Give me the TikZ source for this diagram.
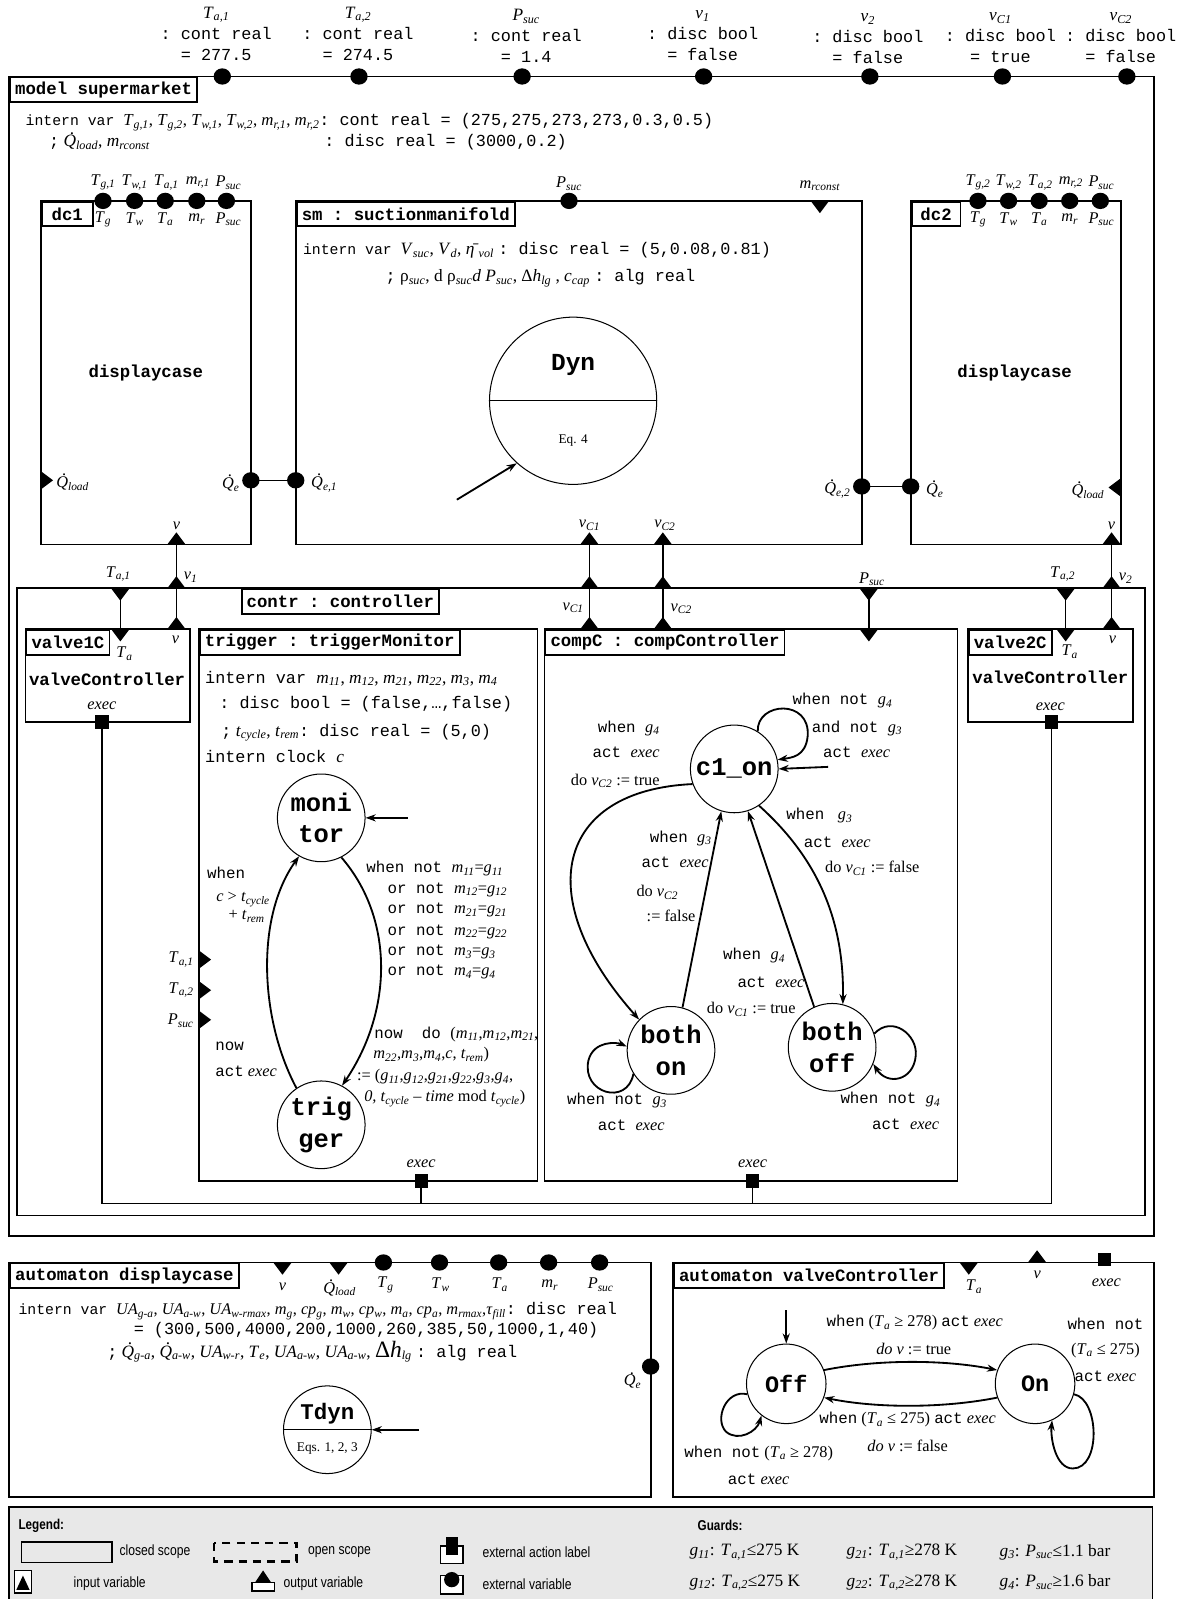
\documentclass[tikz,border=0pt]{standalone}
\usepackage{fontspec}
\setmainfont{Liberation Serif}
\setmonofont{Liberation Mono}
\newfontfamily\lsans[FakeStretch=0.82]{Liberation Sans}
\usetikzlibrary{arrows.meta}
\newcommand\vr[2]{\textit{#1}\textsubscript{\textit{#2}}}
\newcommand\Qd{\leavevmode\rlap{\smash{\kern0.36em\raisebox{0.72em}{.}}}\textit{Q}}
\newcommand\Qs[1]{\Qd\textsubscript{\textit{#1}}}
\newcommand\mtx{\ttfamily\fontsize{15.5}{19}\selectfont}
\newcommand\mdc{\ttfamily\fontsize{16.5}{20}\selectfont}
\newcommand\mds{\ttfamily\fontsize{14.5}{20}\selectfont}
\newcommand\ptD[2]{\fill (#1-9,#2) -- (#1+9,#2) -- (#1,#2+12) -- cycle;}
\newcommand\ptU[2]{\fill (#1-9,#2) -- (#1+9,#2) -- (#1,#2-12) -- cycle;}
\newcommand\ptR[2]{\fill (#1,#2-9) -- (#1,#2+9) -- (#1+12,#2) -- cycle;}
\newcommand\ptL[2]{\fill (#1,#2-9) -- (#1,#2+9) -- (#1-12,#2) -- cycle;}
\newcommand\pdot[2]{\fill (#1,#2) circle [x radius=8.5pt, y radius=8pt];}
\newcommand\psq[2]{\fill (#1-6.5,#2-6.5) rectangle (#1+6.5,#2+6.5);}
\begin{document}
\begin{tikzpicture}[x=1pt,y=-1pt,
  bx/.style={draw, line width=1.8pt},
  lbl/.style={draw, line width=1.8pt, fill=white, anchor=north west, inner xsep=5pt, inner ysep=0pt, minimum height=24pt, font=\ttfamily\bfseries\fontsize{17}{20}\selectfont},
  txt/.style={inner sep=0pt, font=\fontsize{17}{20.5}\selectfont},
  lab/.style={inner sep=0pt, font=\fontsize{16}{19}\selectfont},
  stt/.style={draw, circle, line width=1pt, minimum size=86pt, inner sep=0pt, align=center, font=\ttfamily\bfseries\fontsize{25}{31}\selectfont},
  tr/.style={line width=1.8pt, -{Stealth[length=10pt,width=7pt]}},
  cn/.style={line width=1.6pt},
  bld/.style={font=\ttfamily\bfseries\fontsize{17}{20}\selectfont, inner sep=0pt},
  lg/.style={inner sep=0pt, anchor=west, font=\lsans\fontsize{14.5}{17}\selectfont},
  gd/.style={inner sep=0pt, anchor=west, font=\fontsize{17}{20}\selectfont},
]
\useasboundingbox (0,0) rectangle (1164,1568);

% ================= header variables
\node[txt, align=center] (hTa1) at (212,33) {\vr{T}{a,1}\\{\mdc : cont real}\\{\mdc = 277.5}};
\node[txt, align=center] (hTa2) at (351,33) {\vr{T}{a,2}\\{\mdc : cont real}\\{\mdc = 274.5}};
\node[txt, align=center] (hPs) at (516,35) {\vr{P}{suc}\\{\mdc : cont real}\\{\mdc = 1.4}};
\node[txt, align=center] (hv1) at (689,35) {\vr{v}{1}\\{\mdc : disc bool}\\{\mdc = false}};
\node[txt, align=center] (hv2) at (851,38) {\vr{v}{2}\\{\mdc : disc bool}\\{\mdc = false}};
\node[txt, align=center] (hvc1) at (981,37) {\vr{v}{C1}\\{\mdc : disc bool}\\{\mdc = true}};
\node[txt, align=center] (hvc2) at (1099,37) {\vr{v}{C2}\\{\mdc : disc bool}\\{\mdc = false}};

% ================= connectors (drawn first)
\coordinate (dc1Qe) at (246,471);
\coordinate (smQe1) at (290,471);
\coordinate (smQe2) at (845,477);
\coordinate (dc2Qe) at (893,477);
\coordinate (dc1v) at (173,534);
\coordinate (crv1) at (173,577);
\coordinate (va1v) at (173,617);
\coordinate (crTa1) at (118,577);
\coordinate (va1Ta) at (118,617);
\coordinate (smvc1) at (578,534);
\coordinate (crvc1) at (578,577);
\coordinate (cpvc1) at (578,617);
\coordinate (smvc2) at (650,534);
\coordinate (crvc2) at (650,577);
\coordinate (cpvc2) at (650,617);
\coordinate (crPs) at (852,577);
\coordinate (cpPs) at (852,617);
\coordinate (crTa2) at (1045,577);
\coordinate (va2Ta) at (1045,617);
\coordinate (dc2v) at (1090,534);
\coordinate (crv2) at (1090,577);
\coordinate (va2v) at (1090,617);
\coordinate (va1ex) at (100,708);
\coordinate (va2ex) at (1031,708);
\coordinate (trex) at (413,1158);
\coordinate (cpex) at (738,1158);
\coordinate (busL) at (100,1180);
\coordinate (busR) at (1031,1180);
\coordinate (busT) at (413,1180);
\coordinate (busC) at (738,1180);

\draw[cn] (dc1Qe) -- (smQe1);
\draw[cn] (smQe2) -- (dc2Qe);
\draw[cn] (dc1v) -- (crv1) -- (va1v);
\draw[cn] (crTa1) -- (va1Ta);
\draw[cn] (smvc1) -- (crvc1) -- (cpvc1);
\draw[cn] (smvc2) -- (crvc2) -- (cpvc2);
\draw[cn] (crPs) -- (cpPs);
\draw[cn] (crTa2) -- (va2Ta);
\draw[cn] (dc2v) -- (crv2) -- (va2v);
\draw[cn] (va1ex) -- (busL) -- (busR) -- (va2ex);
\draw[cn] (trex) -- (busT);
\draw[cn] (cpex) -- (busC);

% ================= model supermarket
\draw[bx] (9,75) rectangle (1132,1212);
\node[lbl] (mlab) at (9,75) {model supermarket};
\foreach \x in {218,352,512,690,853,983,1105} {\pdot{\x}{75}}
\node[txt, anchor=base west, font=\fontsize{16.5}{20}\selectfont] (mv1) at (25,123) {{\mds intern var }\vr{T}{g,1}, \vr{T}{g,2}, \vr{T}{w,1}, \vr{T}{w,2}, \vr{m}{r,1}, \vr{m}{r,2}{\mdc : cont real = (275,275,273,273,0.3,0.5)}};
\node[txt, anchor=base west] (mv2) at (48,144) {{\mdc ;} \Qs{load}, \vr{m}{rconst}};
\node[txt, anchor=base west] (mv3) at (318,144) {{\mdc : disc real = (3000,0.2)}};

% ================= dc1
\draw[bx] (40,197) rectangle (246,534);
\node[lbl, minimum width=50pt] (dc1l) at (40,197) {dc1};
\foreach \x in {101,132,162,193,222} {\pdot{\x}{197}}
\node[lab] (d1a1) at (101,179) {\vr{T}{g,1}};
\node[lab] (d1a2) at (132,179) {\vr{T}{w,1}};
\node[lab] (d1a3) at (163,179) {\vr{T}{a,1}};
\node[lab] (d1a4) at (194,179) {\vr{m}{r,1}};
\node[lab] (d1a5) at (224,179) {\vr{P}{suc}};
\node[lab] (d1b1) at (101,215) {\vr{T}{g}};
\node[lab] (d1b2) at (132,215) {\vr{T}{w}};
\node[lab] (d1b3) at (162,215) {\vr{T}{a}};
\node[lab] (d1b4) at (193,215) {\vr{m}{r}};
\node[lab] (d1b5) at (224,215) {\vr{P}{suc}};
\node[bld] (dc1t) at (143,366) {displaycase};
\ptR{40}{471}
\node[lab, anchor=west] (d1ql) at (55,474) {\Qs{load}};
\pdot{246}{471}
\node[lab, anchor=east] (d1qe) at (235,475) {\Qs{e}};
\ptU{173}{534}
\node[lab] (d1v) at (173,516) {\textit{v}};

% ================= sm
\draw[bx] (290,197) rectangle (845,534);
\node[lbl] (sml) at (290,197) {sm : suctionmanifold};
\pdot{558}{197}
\node[lab] (smps) at (558,180) {\vr{P}{suc}};
\ptD{804}{197}
\node[lab] (smmr) at (804,182) {\vr{m}{rconst}};
\node[txt, anchor=base west] (smt1) at (297,250) {{\mds intern var }\vr{V}{suc}, \vr{V}{d}, \textit{η̄}\textsubscript{\textit{vol}} {\mdc : disc real = (5,0.08,0.81)}};
\node[txt, anchor=base west] (smt2) at (378,276) {{\mdc ;} ρ\textsubscript{\textit{suc}}, d ρ\textsubscript{\textit{suc}}\textit{d} \vr{P}{suc}, Δ\vr{h}{lg} , \vr{c}{cap} {\mdc : alg real}};
\node[draw, circle, line width=1pt, minimum size=164pt, inner sep=0pt] (dyn) at (562,393) {};
\draw[line width=1pt] (dyn.west) -- (dyn.east);
\node[bld, font=\ttfamily\bfseries\fontsize{24}{28}\selectfont] (dynt) at (562,358) {Dyn};
\node[lab, font=\fontsize{13}{15}\selectfont] (dyne) at (562,432) {Eq. 4};
\coordinate (dynI) at (448,490);
\draw[tr] (dynI) -- (dyn.228);
\pdot{290}{471}
\node[lab, anchor=west] (smq1) at (305,475) {\Qs{e,1}};
\pdot{845}{477}
\node[lab, anchor=east] (smq2) at (834,481) {\Qs{e,2}};
\ptU{578}{534}
\node[lab] (smvc1l) at (578,515) {\vr{v}{C1}};
\ptU{650}{534}
\node[lab] (smvc2l) at (652,515) {\vr{v}{C2}};

% ================= dc2
\draw[bx] (893,197) rectangle (1099,534);
\node[lbl, minimum width=48pt] (dc2l) at (893,197) {dc2};
\foreach \x in {959,989,1019,1049,1079} {\pdot{\x}{197}}
\node[lab] (d2a1) at (959,179) {\vr{T}{g,2}};
\node[lab] (d2a2) at (989,179) {\vr{T}{w,2}};
\node[lab] (d2a3) at (1020,179) {\vr{T}{a,2}};
\node[lab] (d2a4) at (1050,179) {\vr{m}{r,2}};
\node[lab] (d2a5) at (1080,179) {\vr{P}{suc}};
\node[lab] (d2b1) at (959,215) {\vr{T}{g}};
\node[lab] (d2b2) at (989,215) {\vr{T}{w}};
\node[lab] (d2b3) at (1019,215) {\vr{T}{a}};
\node[lab] (d2b4) at (1049,215) {\vr{m}{r}};
\node[lab] (d2b5) at (1080,215) {\vr{P}{suc}};
\node[bld] (dc2t) at (995,366) {displaycase};
\pdot{893}{477}
\node[lab, anchor=west] (d2qe) at (908,481) {\Qs{e}};
\ptL{1099}{478}
\node[lab, anchor=east] (d2ql) at (1083,482) {\Qs{load}};
\ptU{1090}{534}
\node[lab] (d2v) at (1090,516) {\textit{v}};

% ================= controller
\draw[bx] (17,577) rectangle (1123,1192);
\node[lbl] (crl) at (236,577) {contr : controller};
\ptD{118}{577}
\ptU{173}{577}
\ptU{578}{577}
\ptU{650}{577}
\ptD{852}{577}
\ptD{1045}{577}
\ptU{1090}{577}
\node[lab] (crTa1l) at (116,563) {\vr{T}{a,1}};
\node[lab, anchor=west] (crv1l) at (180,566) {\vr{v}{1}};
\node[lab] (crvc1l) at (562,596) {\vr{v}{C1}};
\node[lab] (crvc2l) at (668,597) {\vr{v}{C2}};
\node[lab] (crPsl) at (855,568) {\vr{P}{suc}};
\node[lab] (crTa2l) at (1042,563) {\vr{T}{a,2}};
\node[lab, anchor=west] (crv2l) at (1097,567) {\vr{v}{2}};

% ---- valve1C
\draw[bx] (25,617) rectangle (186,708);
\node[lbl] (va1l) at (25,617) {valve1C};
\ptD{118}{617}
\node[lab] (va1Tal) at (122,641) {\vr{T}{a}};
\ptU{173}{617}
\node[lab] (va1vl) at (172,627) {\textit{v}};
\node[bld] (va1t) at (105,666) {valveController};
\node[lab] (va1e) at (100,692) {\textit{exec}};
\psq{100}{708}

% ---- valve2C
\draw[bx] (949,617) rectangle (1111,708);
\node[lbl] (va2l) at (949,617) {valve2C};
\ptD{1045}{617}
\node[lab] (va2Tal) at (1049,639) {\vr{T}{a}};
\ptU{1090}{617}
\node[lab] (va2vl) at (1091,627) {\textit{v}};
\node[bld] (va2t) at (1030,664) {valveController};
\node[lab] (va2e) at (1030,693) {\textit{exec}};
\psq{1031}{708}

% ---- trigger
\draw[bx] (195,617) rectangle (527,1158);
\node[lbl] (trl) at (195,617) {trigger : triggerMonitor};
\node[txt, anchor=base west] (trt1) at (201,670) {{\mdc intern var }\vr{m}{11}, \vr{m}{12}, \vr{m}{21}, \vr{m}{22}, \vr{m}{3}, \vr{m}{4}};
\node[txt, anchor=base west] (trt2) at (205,695) {{\mdc \ : disc bool = (false,…,false)}};
\node[txt, anchor=base west] (trt3) at (207,722) {{\mdc \ ;} \vr{t}{cycle}, \vr{t}{rem}{\mdc : disc real = (5,0)}};
\node[txt, anchor=base west] (trt4) at (201,748) {{\mdc intern clock }\textit{c}};
\node[stt] (mon) at (315,802) {moni\\tor};
\node[stt] (trg) at (315,1103) {trig\\ger};
\coordinate (monI) at (400,802);
\draw[tr] (monI) -- (mon.east);
\draw[tr] (trg.124) .. controls (255,1000) and (250,900) .. (mon.240);
\draw[tr] (mon.297) .. controls (386,900) and (386,990) .. (trg.62);
\node[lab, anchor=base west] (trw1) at (203,861) {{\mtx when}};
\node[lab, anchor=base west] (trw2) at (212,884) {\textit{c} > \vr{t}{cycle}};
\node[lab, anchor=base west] (trw3) at (224,902) {+ \vr{t}{rem}};
\node[lab, anchor=base west] (trw4) at (211,1030) {{\mtx now}};
\node[lab, anchor=base west] (trw5) at (211,1056) {{\mtx act} \textit{exec}};
\node[lab, anchor=base west] (trr1) at (359,856) {{\mtx when not }\vr{m}{11}=\vr{g}{11}};
\node[lab, anchor=base west] (trr2) at (380,876) {{\mtx or not }\vr{m}{12}=\vr{g}{12}};
\node[lab, anchor=base west] (trr3) at (380,896) {{\mtx or not }\vr{m}{21}=\vr{g}{21}};
\node[lab, anchor=base west] (trr4) at (380,917) {{\mtx or not }\vr{m}{22}=\vr{g}{22}};
\node[lab, anchor=base west] (trr5) at (380,937) {{\mtx or not }\vr{m}{3}=\vr{g}{3}};
\node[lab, anchor=base west] (trr6) at (380,957) {{\mtx or not }\vr{m}{4}=\vr{g}{4}};
\node[lab, anchor=base west] (trn1) at (367,1018) {{\mtx now\ \ do }(\vr{m}{11},\vr{m}{12},\vr{m}{21},};
\node[lab, anchor=base west] (trn2) at (366,1038) {\vr{m}{22},\vr{m}{3},\vr{m}{4},\textit{c}, \vr{t}{rem})};
\node[lab, anchor=base west] (trn3) at (350,1060) {:= (\vr{g}{11},\vr{g}{12},\vr{g}{21},\vr{g}{22},\vr{g}{3},\vr{g}{4},};
\node[lab, anchor=base west] (trn4) at (357,1080) {\textit{0,} \vr{t}{cycle} – \textit{time} mod \vr{t}{cycle})};
\ptR{195}{941}
\ptR{195}{971}
\ptR{195}{1000}
\node[lab, anchor=east] (trin1) at (190,941) {\vr{T}{a,1}};
\node[lab, anchor=east] (trin2) at (190,971) {\vr{T}{a,2}};
\node[lab, anchor=east] (trin3) at (190,1001) {\vr{P}{suc}};
\node[lab] (tre) at (413,1141) {\textit{exec}};
\psq{413}{1158}

% ---- compC
\draw[bx] (534,617) rectangle (939,1158);
\node[lbl] (cpl) at (534,617) {compC : compController};
\ptD{852}{617}
\ptU{578}{617}
\ptU{650}{617}
\node[stt] (c1) at (720,754) {c1\_on};
\node[stt] (bon) at (658,1030) {both\\on};
\node[stt] (boff) at (816,1027) {both\\off};
\coordinate (c1I) at (812,752);
\draw[tr] (c1I) -- (c1.east);
\draw[tr] (c1.58) .. controls (742,688) and (795,685) .. (792,722) .. controls (790,742) and (776,743) .. (c1.12);
\draw[tr] (c1.200) .. controls (545,775) and (520,880) .. (bon.136);
\draw[tr] (bon.75) -- (c1.253);
\draw[tr] (boff.114) -- (c1.288);
\draw[tr] (c1.304) .. controls (800,840) and (828,900) .. (boff.76);
\draw[tr] (bon.212) .. controls (615,1085) and (570,1072) .. (577,1040) .. controls (582,1020) and (605,1022) .. (bon.175);
\draw[tr] (boff.18) .. controls (875,995) and (900,1015) .. (898,1035) .. controls (896,1060) and (870,1065) .. (boff.338);
\node[lab, anchor=base east] (cl1) at (647,718) {{\mtx when }\vr{g}{4}};
\node[lab, anchor=base east] (cl2) at (647,743) {{\mtx act }\textit{exec}};
\node[lab, anchor=base east] (cl3) at (647,770) {do \vr{v}{C2} := true};
\node[lab, anchor=base west] (cs1) at (777,691) {{\mtx when not }\vr{g}{4}};
\node[lab, anchor=base west] (cs2) at (796,718) {{\mtx and not }\vr{g}{3}};
\node[lab, anchor=base west] (cs3) at (807,743) {{\mtx act }\textit{exec}};
\node[lab, anchor=base west] (cm1) at (637,826) {{\mtx when }\vr{g}{3}};
\node[lab, anchor=base west] (cm2) at (629,851) {{\mtx act }\textit{exec}};
\node[lab, anchor=base west] (cm3) at (624,879) {do \vr{v}{C2}};
\node[lab, anchor=base west] (cm4) at (634,904) {:= false};
\node[lab, anchor=base west] (cr1) at (771,804) {{\mtx when }\ \vr{g}{3}};
\node[lab, anchor=base west] (cr2) at (788,831) {{\mtx act }\textit{exec}};
\node[lab, anchor=base west] (cr3) at (809,856) {do \vr{v}{C1} := false};
\node[lab, anchor=base west] (cb1) at (709,941) {{\mtx when }\vr{g}{4}};
\node[lab, anchor=base west] (cb2) at (723,968) {{\mtx act }\textit{exec}};
\node[lab, anchor=base west] (cb3) at (693,994) {do \vr{v}{C1} := true};
\node[lab, anchor=base west] (cn1) at (556,1083) {{\mtx when not }\vr{g}{3}};
\node[lab, anchor=base west] (cn2) at (586,1109) {{\mtx act }\textit{exec}};
\node[lab, anchor=base west] (cf1) at (824,1082) {{\mtx when not }\vr{g}{4}};
\node[lab, anchor=base west] (cf2) at (855,1108) {{\mtx act }\textit{exec}};
\node[lab] (cpe) at (738,1141) {\textit{exec}};
\psq{738}{1158}

% ================= automaton displaycase
\draw[bx] (9,1238) rectangle (638,1468);
\node[lbl] (adl) at (9,1238) {automaton displaycase};
\ptD{277}{1238}
\node[lab] (adv) at (277,1262) {\textit{v}};
\ptD{332}{1238}
\node[lab] (adq) at (333,1264) {\Qs{load}};
\foreach \x in {376,431,489,538,588} {\pdot{\x}{1238}}
\node[lab] (ad1) at (378,1260) {\vr{T}{g}};
\node[lab] (ad2) at (432,1260) {\vr{T}{w}};
\node[lab] (ad3) at (490,1260) {\vr{T}{a}};
\node[lab] (ad4) at (539,1260) {\vr{m}{r}};
\node[lab] (ad5) at (589,1260) {\vr{P}{suc}};
\node[txt, anchor=base west, font=\fontsize{16}{20}\selectfont] (adt1) at (18,1289) {{\mds intern var }\vr{UA}{g-a}, \vr{UA}{a-w}, \vr{UA}{w-rmax}, \vr{m}{g}, \vr{cp}{g}, \vr{m}{w}, \vr{cp}{w}, \vr{m}{a}, \vr{cp}{a}, \vr{m}{rmax},\vr{τ}{fill}{\mdc : disc real}};
\node[txt, anchor=base west] (adt2) at (131,1309) {{\mdc = (300,500,4000,200,1000,260,385,50,1000,1,40)}};
\node[txt, anchor=base west] (adt3) at (105,1331) {{\mdc ;} \Qs{g-a}, \Qs{a-w}, \vr{UA}{w-r}, \vr{T}{e}, \vr{UA}{a-w}, \vr{UA}{a-w}, {\fontsize{23}{23}\selectfont Δ\textit{h}}\textsubscript{\textit{lg}} {\mdc : alg real}};
\pdot{638}{1340}
\node[lab, anchor=east] (adqe) at (629,1355) {\Qs{e}};
\node[draw, circle, line width=1pt, minimum size=86pt, inner sep=0pt] (tdyn) at (321,1402) {};
\draw[line width=1pt] (tdyn.west) -- (tdyn.east);
\node[bld, font=\ttfamily\bfseries\fontsize{22}{26}\selectfont] (tdynt) at (321,1386) {Tdyn};
\node[lab, font=\fontsize{13}{15}\selectfont] (tdyne) at (321,1420) {Eqs. 1, 2, 3};
\coordinate (tdynI) at (411,1402);
\draw[tr] (tdynI) -- (tdyn.east);

% ================= automaton valveController
\draw[bx] (660,1238) rectangle (1132,1468);
\node[lbl] (avl) at (660,1238) {automaton valveController};
\ptD{950}{1238}
\node[lab] (avTa) at (955,1262) {\vr{T}{a}};
\ptU{1017}{1238}
\node[lab] (avv) at (1017,1250) {\textit{v}};
\psq{1083}{1235}
\node[lab] (ave) at (1085,1258) {\textit{exec}};
\node[stt, minimum size=78pt, font=\ttfamily\bfseries\fontsize{23}{28}\selectfont] (off) at (771,1357) {Off};
\node[stt, minimum size=78pt, font=\ttfamily\bfseries\fontsize{23}{28}\selectfont] (on) at (1015,1357) {On};
\coordinate (offI) at (771,1285);
\draw[tr] (offI) -- (off.north);
\draw[tr] (off.20) .. controls (860,1333) and (925,1333) .. (on.160);
\draw[tr] (on.200) .. controls (925,1381) and (860,1381) .. (off.340);
\draw[tr] (off.195) .. controls (712,1362) and (700,1392) .. (712,1404) .. controls (724,1414) and (742,1404) .. (off.232);
\draw[tr] (on.345) .. controls (1078,1372) and (1080,1440) .. (1052,1440) .. controls (1035,1440) and (1030,1410) .. (on.295);
\node[lab] (av1) at (897,1297) {{\mtx when} (\vr{T}{a} ≥ 278) {\mtx act} \textit{exec}};
\node[lab] (av2) at (896,1323) {\textit{do v} := true};
\node[lab] (av3) at (890,1392) {{\mtx when} (\vr{T}{a} ≤ 275) {\mtx act} \textit{exec}};
\node[lab] (av4) at (890,1418) {\textit{do v} := false};
\node[lab] (av5) at (744,1425) {{\mtx when not} (\vr{T}{a} ≥ 278)};
\node[lab] (av6) at (744,1451) {{\mtx act} \textit{exec}};
\node[lab] (av7) at (1084,1298) {{\mtx when not}};
\node[lab] (av8) at (1084,1324) {(\vr{T}{a} ≤ 275)};
\node[lab] (av9) at (1084,1350) {{\mtx act} \textit{exec}};

% ================= legend
\filldraw[fill=black!9, line width=1.5pt] (9,1478) rectangle (1130,1575);
\node[lg, font=\lsans\bfseries\fontsize{14}{16}\selectfont] (lgt) at (18,1496) {Legend:};
\draw[line width=1.5pt] (21,1512) rectangle (110,1532);
\node[lg] (lg1) at (117,1522) {closed scope};
\draw[line width=2.5pt, dash pattern=on 8pt off 6pt] (210,1513) rectangle (291,1531);
\node[lg] (lg2) at (302,1522) {open scope};
\draw[line width=1.5pt, fill=white] (432,1516) rectangle (454,1533);
\fill (437,1507) rectangle (449,1525);
\node[lg] (lg3) at (473,1522) {external action label};
\draw[line width=1.5pt, fill=white] (14,1540) rectangle (31,1562);
\fill (16,1559) -- (29,1559) -- (22.5,1545) -- cycle;
\node[lg] (lg4) at (72,1553) {input variable};
\fill (258,1540) -- (250,1552) -- (266,1552) -- cycle;
\draw[line width=1.5pt, fill=white] (247,1552) rectangle (269,1560);
\node[lg] (lg5) at (278,1553) {output variable};
\draw[line width=1.5pt, fill=white] (432,1545) rectangle (454,1563);
\fill (443,1549) circle [radius=7.5pt];
\node[lg] (lg6) at (473,1553) {external variable};
\node[lg, font=\lsans\bfseries\fontsize{14}{16}\selectfont] (gdt) at (684,1496) {Guards:};
\node[gd] (g11) at (676,1522) {\vr{g}{11}: \vr{T}{a,1}≤275 K};
\node[gd] (g21) at (830,1522) {\vr{g}{21}: \vr{T}{a,1}≥278 K};
\node[gd] (g3) at (980,1522) {\vr{g}{3}: \vr{P}{suc}≤1.1 bar};
\node[gd] (g12) at (676,1552) {\vr{g}{12}: \vr{T}{a,2}≤275 K};
\node[gd] (g22) at (830,1552) {\vr{g}{22}: \vr{T}{a,2}≥278 K};
\node[gd] (g4) at (980,1552) {\vr{g}{4}: \vr{P}{suc}≥1.6 bar};
\end{tikzpicture}
\end{document}
